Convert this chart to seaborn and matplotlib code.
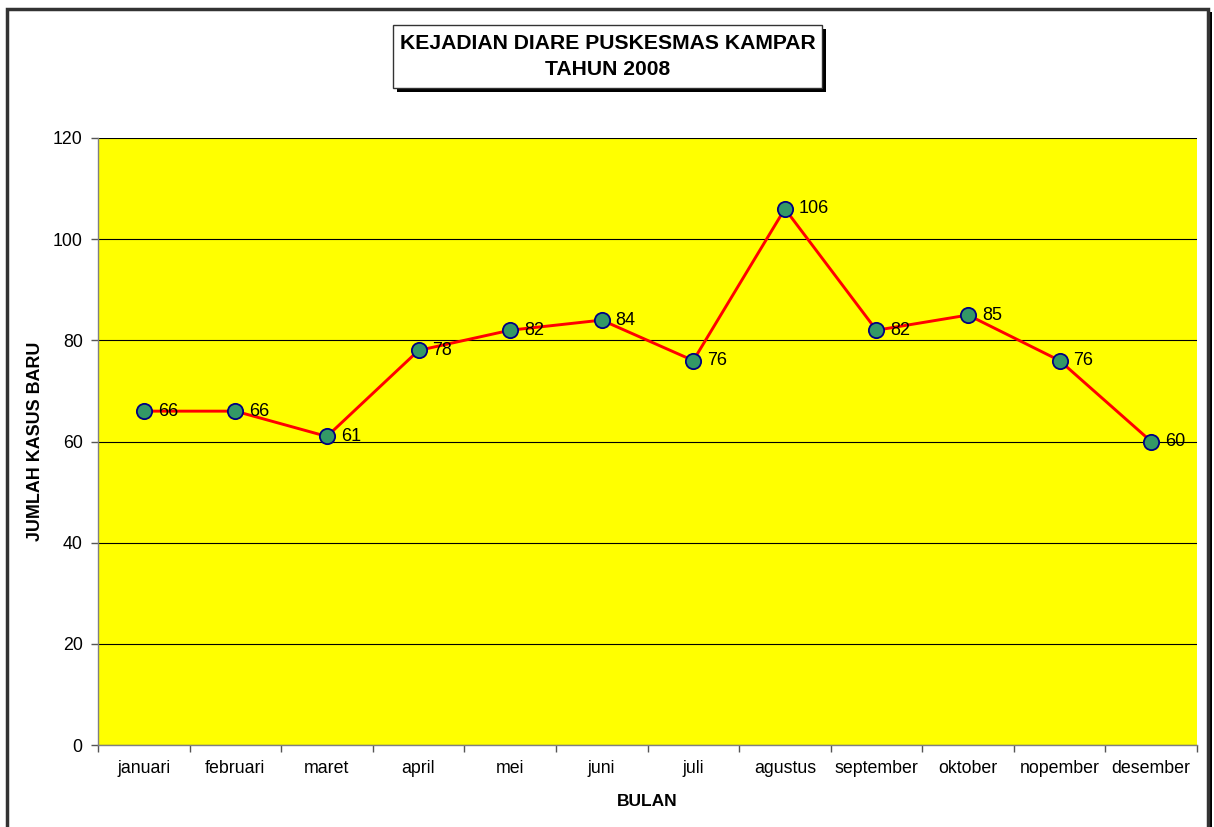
import matplotlib
matplotlib.use("Agg")
import matplotlib.pyplot as plt
import seaborn as sns
import pandas as pd
from matplotlib.patches import Rectangle
from matplotlib.ticker import FixedLocator

# data
bulan = ["januari", "februari", "maret", "april", "mei", "juni", "juli",
         "agustus", "september", "oktober", "nopember", "desember"]
kasus = [66, 66, 61, 78, 82, 84, 76, 106, 82, 85, 76, 60]

df = pd.DataFrame({"bulan": bulan, "kasus": kasus, "pos": range(len(bulan))})

sns.set_style("white")
plt.rcParams["font.family"] = ["Liberation Sans", "DejaVu Sans"]
plt.rcParams["text.color"] = "black"
plt.rcParams["axes.labelcolor"] = "black"
plt.rcParams["xtick.color"] = "black"
plt.rcParams["ytick.color"] = "black"

fig = plt.figure(figsize=(12.14, 8.27), dpi=100)
ax = fig.add_axes([98 / 1214, 1 - 745 / 827, 1099 / 1214, 607 / 827])
ax.set_facecolor("#FFFF00")

sns.lineplot(data=df, x="pos", y="kasus", ax=ax, color="#FF0000", linewidth=2.1,
             marker="o", markersize=11, markerfacecolor="#339966",
             markeredgecolor="#000080", markeredgewidth=1.3, zorder=5)

# value labels to the right of each point
for i, v in enumerate(kasus):
    ax.annotate(str(v), (i, v), xytext=(10, 0), textcoords="offset points",
                ha="left", va="center", fontsize=13, color="black", zorder=6)

ax.set_xlim(-0.5, len(bulan) - 0.5)
ax.set_ylim(0, 120)
ax.set_yticks(range(0, 121, 20))
ax.yaxis.grid(True, color="black", linewidth=0.8)
ax.set_axisbelow(True)

ax.set_xticks(range(len(bulan)))
ax.set_xticklabels(bulan)
ax.xaxis.set_minor_locator(FixedLocator([i + 0.5 for i in range(-1, len(bulan))]))
ax.tick_params(axis="x", which="major", length=0, pad=11, labelsize=12.8)
ax.tick_params(axis="x", which="minor", length=5, color="#555555", width=1, bottom=True)
ax.tick_params(axis="y", length=5, color="#555555", width=1, labelsize=12.8, pad=6, left=True)

for side in ["top", "right"]:
    ax.spines[side].set_visible(False)
for side in ["left", "bottom"]:
    ax.spines[side].set_color("#808080")
    ax.spines[side].set_linewidth(1)

ax.set_xlabel("BULAN", fontsize=12.5, fontweight="bold", labelpad=12)
ax.set_ylabel("JUMLAH KASUS BARU", fontsize=12.9, fontweight="bold", labelpad=6.5)

# outer chart border with shadow on right side
W, H = 1214, 827
fig.patches.append(Rectangle((10 / W, -0.01), 1202 / W, 1 - 10 / H + 0.01 - 0.003,
                             transform=fig.transFigure, facecolor="black",
                             edgecolor="none", zorder=-3))
fig.patches.append(Rectangle((7 / W, -0.01), 1201 / W, 1 - 7 / H + 0.01 - 0.003,
                             transform=fig.transFigure, facecolor="white",
                             edgecolor="#333333", linewidth=2.5, zorder=-2))

# title box with drop shadow
bx0, by0, bw, bh = 393, 25, 429, 63
fig.patches.append(Rectangle(((bx0 + 4) / W, 1 - (by0 + bh + 4) / H), bw / W, bh / H,
                             transform=fig.transFigure, facecolor="black",
                             edgecolor="none", zorder=1))
fig.patches.append(Rectangle((bx0 / W, 1 - (by0 + bh) / H), bw / W, bh / H,
                             transform=fig.transFigure, facecolor="white",
                             edgecolor="#333333", linewidth=1, zorder=2))
fig.text((bx0 + bw / 2) / W, 1 - (by0 + bh / 2) / H,
         "KEJADIAN DIARE PUSKESMAS KAMPAR\nTAHUN 2008",
         ha="center", va="center", fontsize=15.2, fontweight="bold",
         linespacing=1.45, zorder=3)

fig.savefig("out.png", dpi=100)
